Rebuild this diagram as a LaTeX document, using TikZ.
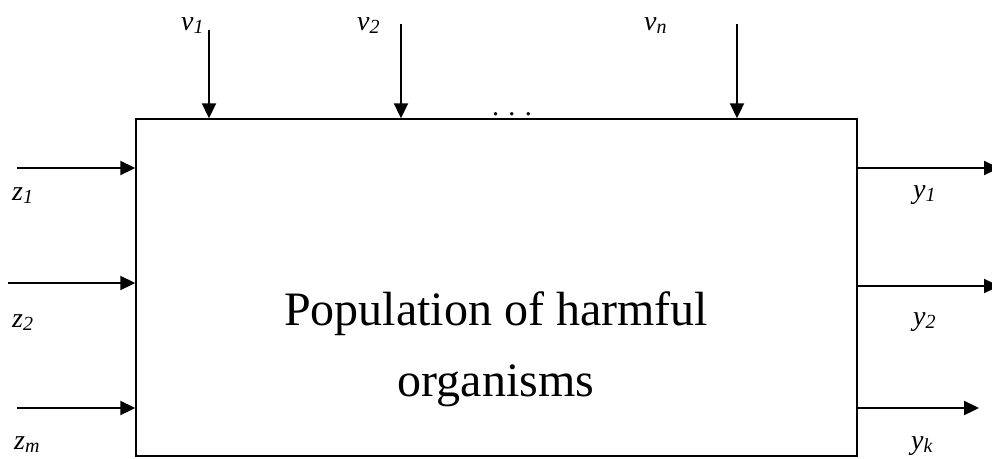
\documentclass[tikz,border=0pt]{standalone}
\usepackage{fontspec}
\setmainfont{Liberation Serif}
\usetikzlibrary{arrows.meta}
\newcommand\lab[2]{{\fontsize{28}{28}\selectfont\textit{#1}\raisebox{-3pt}{\fontsize{20}{20}\selectfont\textit{#2}}}}
\begin{document}
\begin{tikzpicture}[x=1pt,y=-1pt,
  sig/.style={line width=2.3pt,-{Triangle[length=15pt,width=14pt]}},
  lbl/.style={anchor=base west,inner sep=0pt},
  big/.style={anchor=base,inner sep=0pt,font=\fontsize{48}{48}\selectfont}]
\useasboundingbox (0,0) rectangle (992,458);
\node[draw,line width=1.5pt,minimum width=721pt,minimum height=337pt,inner sep=0pt] (box) at (496.5,287.5) {};
\node[big] (t1) at (496,325) {Population of harmful};
\node[big] (t2) at (496,396) {organisms};
% inputs left
\coordinate (z1s) at (17,168);
\coordinate (z2s) at (8,283);
\coordinate (zms) at (17,408);
\draw[sig] (z1s) -- (box.west |- z1s);
\draw[sig] (z2s) -- (box.west |- z2s);
\draw[sig] (zms) -- (box.west |- zms);
% outputs right
\coordinate (y1e) at (999,168);
\coordinate (y2e) at (999,286);
\coordinate (yke) at (979,408);
\draw[sig] (box.east |- y1e) -- (y1e);
\draw[sig] (box.east |- y2e) -- (y2e);
\draw[sig] (box.east |- yke) -- (yke);
% top
\coordinate (v1s) at (209,30);
\coordinate (v2s) at (401,24);
\coordinate (vns) at (737,24);
\draw[sig] (v1s) -- (v1s |- box.north);
\draw[sig] (v2s) -- (v2s |- box.north);
\draw[sig] (vns) -- (vns |- box.north);
\node[anchor=base,inner sep=0pt,font=\fontsize{28}{28}\selectfont] (dots) at (512,115) {. . .};
% labels
\node[lbl] (lz1) at (12,200) {\lab{z}{1}};
\node[lbl] (lz2) at (12,327) {\lab{z}{2}};
\node[lbl] (lzm) at (14,449) {\lab{z}{m}};
\node[lbl] (ly1) at (913,198) {\lab{y}{1}};
\node[lbl] (ly2) at (913,325) {\lab{y}{2}};
\node[lbl] (lyk) at (911,449) {\lab{y}{k}};
\node[lbl] (lv1) at (181,30) {\lab{v}{1}};
\node[lbl] (lv2) at (357,30) {\lab{v}{2}};
\node[lbl] (lvn) at (644,30) {\lab{v}{n}};
\end{tikzpicture}
\end{document}
